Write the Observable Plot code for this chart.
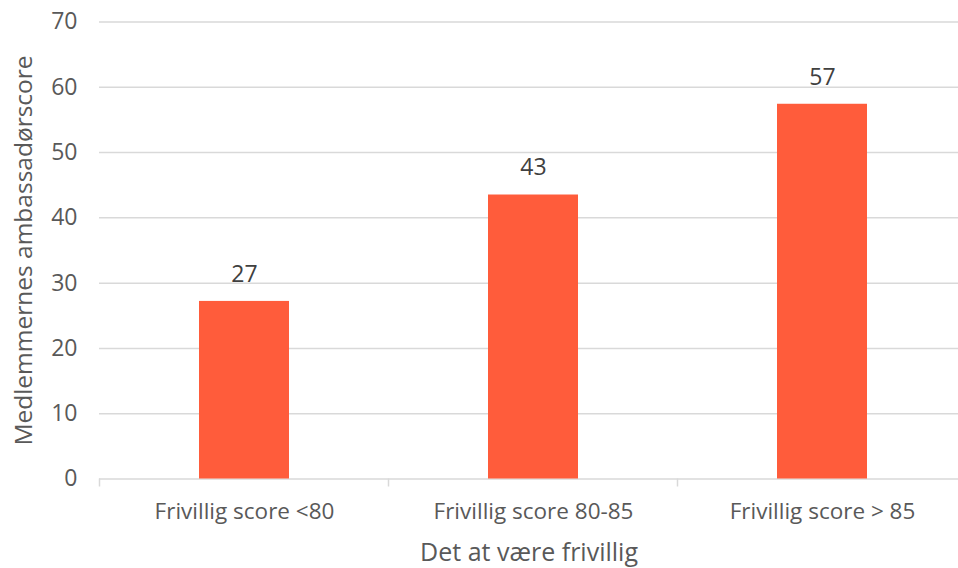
<!DOCTYPE html>
<html>
<head>
<meta charset="utf-8">
<script src="https://cdn.jsdelivr.net/npm/d3@7"></script>
<script src="https://cdn.jsdelivr.net/npm/@observablehq/plot@0.6"></script>
<style>
  html, body { margin: 0; padding: 0; background: #fff; overflow: hidden; }
</style>
</head>
<body>
<div id="chart"></div>
<script>
const categories = ["Frivillig score <80", "Frivillig score 80-85", "Frivillig score > 85"];
const values = [27.2, 43.5, 57.4];
const valueLabels = ["27", "43", "57"];
const yTicks = [0, 10, 20, 30, 40, 50, 60, 70];
const xTitle = "Det at være frivillig";
const yTitle = "Medlemmernes ambassadørscore";

const data = categories.map((c, i) => ({category: c, value: values[i], label: valueLabels[i]}));

const W = 958, H = 568;
const font = "'Open Sans', sans-serif";

const chart = Plot.plot({
  width: W,
  height: H,
  marginLeft: 99,
  marginRight: 0,
  marginTop: 21.5,
  marginBottom: 89.5,
  style: {fontFamily: font, background: "#fff", color: "#595959", overflow: "visible"},
  x: {domain: categories, range: [99, 967], paddingInner: 0.69, paddingOuter: 0.345},
  y: {domain: [0, 70], ticks: yTicks},
  marks: [
    Plot.gridY(yTicks.filter(d => d > 0), {stroke: "#d9d9d9", strokeOpacity: 1, strokeWidth: 1.5}),
    Plot.ruleY([0], {stroke: "#d9d9d9", strokeWidth: 1.5}),
    Plot.barY(data, {x: "category", y: "value", fill: "#FF5C3B"}),
    Plot.text(data, {x: "category", y: "value", text: "label", dy: -27, fill: "#404040", fontSize: 23, lineAnchor: "middle"}),
    Plot.axisY(yTicks, {tickSize: 0, tickPadding: 22, fontSize: 23, fill: "#595959",
      label: yTitle, labelAnchor: "center", labelOffset: 85, labelArrow: "none"}),
    Plot.axisX({tickSize: 0, tickPadding: 24, fontSize: 22.5, fill: "#595959",
      label: xTitle, labelAnchor: "center", labelOffset: 82, labelArrow: "none"})
  ]
});

// boundary tick marks between categories, derived from the band scale
const xs = chart.scale("x");
const ys = chart.scale("y");
const half = (xs.step - xs.bandwidth) / 2;
const edges = categories.map(c => xs.apply(c) - half).concat([xs.apply(categories[categories.length - 1]) + xs.bandwidth + half]);
const y0 = ys.apply(0);
d3.select(chart).append("g")
  .selectAll("line").data(edges).join("line")
  .attr("x1", d => d).attr("x2", d => d)
  .attr("y1", y0).attr("y2", y0 + 8)
  .attr("stroke", "#d9d9d9").attr("stroke-width", 1.5);

// axis title font sizes
d3.select(chart).selectAll("[aria-label='y-axis label'] text").attr("font-size", 24.5);
d3.select(chart).selectAll("[aria-label='x-axis label'] text").attr("font-size", 25);

document.getElementById("chart").appendChild(chart);
</script>
</body>
</html>
